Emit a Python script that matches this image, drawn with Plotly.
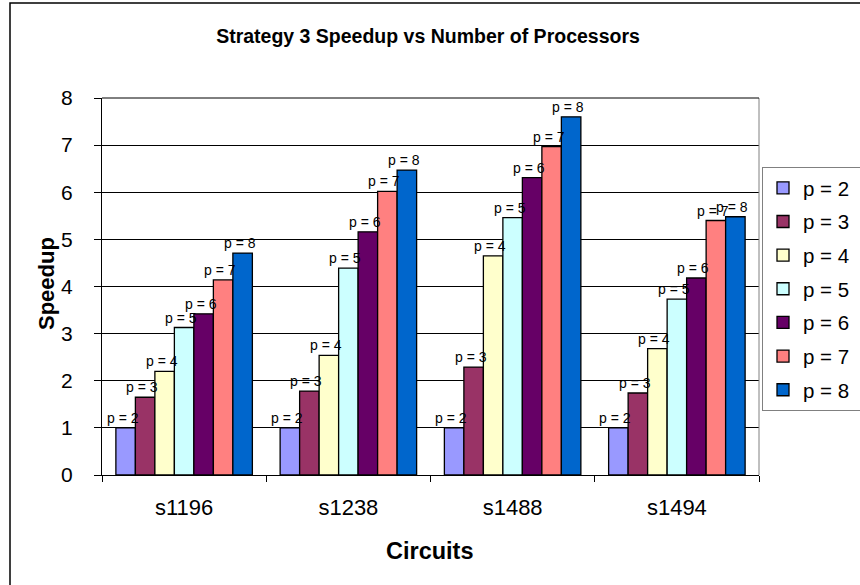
import plotly.graph_objects as go

categories = ["s1196", "s1238", "s1488", "s1494"]
series_names = ["p = 2", "p = 3", "p = 4", "p = 5", "p = 6", "p = 7", "p = 8"]
p2 = [1.0, 1.0, 1.0, 1.0]
p3 = [1.65, 1.78, 2.29, 1.74]
p4 = [2.20, 2.54, 4.65, 2.68]
p5 = [3.13, 4.39, 5.46, 3.73]
p6 = [3.42, 5.16, 6.31, 4.18]
p7 = [4.14, 6.02, 6.97, 5.40]
p8 = [4.71, 6.47, 7.60, 5.48]
series_values = [p2, p3, p4, p5, p6, p7, p8]
colors = ["#9999FF", "#993366", "#FFFFCC", "#CCFFFF", "#660066", "#FF8080", "#0066CC"]
y_ticks = [0, 1, 2, 3, 4, 5, 6, 7, 8]

FONT = "Liberation Sans, Arial, sans-serif"

W, H = 860, 585
L, R, T, B = 102, 101, 98, 110
pw, ph = W - L - R, H - T - B
BARGAP = 0.169


def px_x(x):
    return (x - L) / pw


def px_y(y):
    return (H - B - y) / ph


fig = go.Figure()
for name, vals, col in zip(series_names, series_values, colors):
    fig.add_trace(go.Bar(
        x=categories, y=vals, name=name + "\u00a0\u00a0", legendgroup=name,
        marker=dict(color=col, line=dict(color="black", width=1.3)),
    ))

# bar value labels ("p = n") above each bar
n_series = len(series_names)
bar_px = pw / len(categories) * (1 - BARGAP) / n_series
for i, (name, vals) in enumerate(zip(series_names, series_values)):
    for c, v in zip(categories, vals):
        fig.add_annotation(x=c, y=v, xref="x", yref="y", text=name, showarrow=False,
                           xanchor="center", yanchor="bottom", yshift=0,
                           xshift=(i - (n_series - 1) / 2) * bar_px - 3,
                           font=dict(family=FONT, size=14, color="black"))

# axis titles
fig.add_annotation(x=px_x(430), y=px_y(551), xref="paper", yref="paper",
                   text="<b>Circuits</b>", showarrow=False, xanchor="center", yanchor="middle",
                   font=dict(family=FONT, size=23.5, color="black"))
fig.add_annotation(x=px_x(46), y=px_y(284), xref="paper", yref="paper",
                   text="<b>Speedup</b>", showarrow=False, textangle=-90,
                   xanchor="center", yanchor="middle",
                   font=dict(family=FONT, size=22, color="black"))

fig.update_layout(
    width=W, height=H,
    margin=dict(l=L, r=R, t=T, b=B, autoexpand=False),
    paper_bgcolor="white", plot_bgcolor="white",
    font=dict(family=FONT, color="black"),
    barmode="group", bargap=BARGAP, bargroupgap=0,
    title=dict(text="<b>Strategy 3 Speedup vs Number of Processors</b>",
               font=dict(size=19.5, family=FONT, color="black"),
               x=428 / W, xref="container", y=(H - 36) / H, yref="container",
               xanchor="center", yanchor="middle"),
    showlegend=True,
    legend=dict(x=px_x(762), y=px_y(167), xanchor="left", yanchor="top",
                font=dict(size=20.5, family=FONT, color="black"),
                bordercolor="#808080", borderwidth=1,
                bgcolor="white", tracegroupgap=4, itemwidth=30),
    xaxis=dict(tickfont=dict(size=22), showline=True, linecolor="black", linewidth=1,
               ticks="outside", tickson="boundaries", ticklen=6, tickcolor="black",
               ticklabelstandoff=13, showgrid=False, fixedrange=True),
    yaxis=dict(range=[0, 8], tickvals=y_ticks, tickfont=dict(size=21),
               showline=True, linecolor="black", linewidth=1,
               ticks="outside", ticklen=7, tickcolor="black", ticklabelstandoff=17,
               showgrid=True, gridcolor="black", gridwidth=1, zeroline=False,
               fixedrange=True),
)

# plot-area border: right side grey, top line at y = 8
fig.add_shape(type="line", xref="paper", yref="paper", x0=1, x1=1, y0=0, y1=1,
              line=dict(color="#808080", width=1))
fig.add_shape(type="line", xref="paper", yref="paper", x0=0, x1=1, y0=1, y1=1,
              line=dict(color="black", width=1))
# outer chart border (left and top visible, others beyond the image)
fig.add_shape(type="rect", xref="paper", yref="paper",
              x0=px_x(10), x1=px_x(870), y0=px_y(3), y1=px_y(600),
              line=dict(color="black", width=1.5), layer="below")

fig.write_html("out.html", config={"displayModeBar": False},
               post_script="document.body.style.margin='0';")
